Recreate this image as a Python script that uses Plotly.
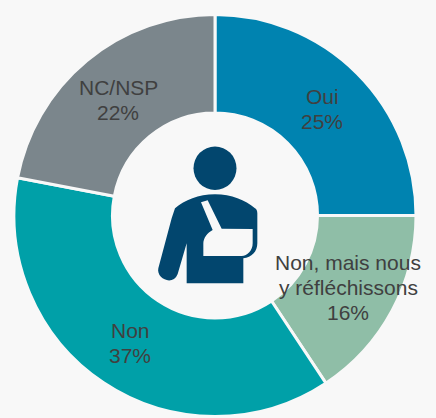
import plotly.graph_objects as go

W, H = 436, 418
BG = "#f8f8f8"
NAVY = "#02466e"

labels = ["Oui", "Non, mais nous y réfléchissons", "Non", "NC/NSP"]
values = [25, 15.7, 37.3, 22]
colors = ["#0083b0", "#8fbea7", "#00a0a8", "#7b868c"]
text_lines = [["Oui", "25%"], ["Non, mais nous", "y réfléchissons", "16%"], ["Non", "37%"], ["NC/NSP", "22%"]]
text_centres = [(322, 109), (348, 287), (130, 343), (118, 100)]
LINE = 25

def px(x): return x / W
def py(y): return 1 - y / H
def zoom_pt(x, y):
    return f"{px(130 + x / 3):.5f},{py(130 + y / 3):.5f}"
def path(cmds):
    out = []
    for c, pts in cmds:
        if c == "L":
            out += ["L" + zoom_pt(*p) for p in pts]
        else:
            out.append(c + " ".join(zoom_pt(*p) for p in pts))
    return " ".join(out) + " Z"

body = path([
    ("M", [(255, 193)]),
    ("C", [(205, 193), (165, 210), (135, 235)]),
    ("L", [(125, 265), (85, 415)]),
    ("C", [(78, 445), (128, 470), (143, 432)]),
    ("L", [(170, 340), (170, 460), (340, 460), (340, 385)]),
    ("C", [(365, 382), (382, 365), (382, 340)]),
    ("L", [(382, 250)]),
    ("C", [(382, 240), (378, 237), (375, 235)]),
    ("C", [(345, 210), (305, 193), (255, 193)]),
])
sling = path([
    ("M", [(213, 217)]),
    ("L", [(233, 211), (275, 296), (368, 297), (368, 340)]),
    ("C", [(368, 362), (352, 378), (335, 378)]),
    ("L", [(220, 378), (220, 340)]),
    ("C", [(220, 325), (232, 308), (248, 300)]),
])

annotations = []
for lines, (cx, cy) in zip(text_lines, text_centres):
    for i, line in enumerate(lines):
        annotations.append(dict(
            text=line, x=px(cx), y=py(cy + (i - (len(lines) - 1) / 2) * LINE),
            xref="paper", yref="paper", showarrow=False,
            xanchor="center", yanchor="middle", align="center",
            font=dict(family="Liberation Sans", size=21, color="#404040")))

fig = go.Figure(go.Pie(
    labels=labels, values=values, textinfo="none",
    hole=0.51, sort=False, direction="clockwise", rotation=0,
    domain=dict(x=[px(14), px(416)], y=[py(416.5), py(14.5)]),
    marker=dict(colors=colors, line=dict(color=BG, width=3)),
    hoverinfo="label+percent",
))
fig.update_layout(
    width=W, height=H, paper_bgcolor=BG, showlegend=False,
    margin=dict(l=0, r=0, t=0, b=0),
    shapes=[
        dict(type="circle", xref="paper", yref="paper", x0=px(193.5), x1=px(236.5),
             y0=py(190), y1=py(146.5), fillcolor=NAVY, line_width=0),
        dict(type="path", xref="paper", yref="paper", path=body, fillcolor=NAVY, line_width=0),
        dict(type="path", xref="paper", yref="paper", path=sling, fillcolor=BG, line_width=0),
    ],
    annotations=annotations,
)
fig.write_html("out.html", config=dict(displayModeBar=False),
               post_script=f"document.body.style.margin='0';document.body.style.background='{BG}';")
